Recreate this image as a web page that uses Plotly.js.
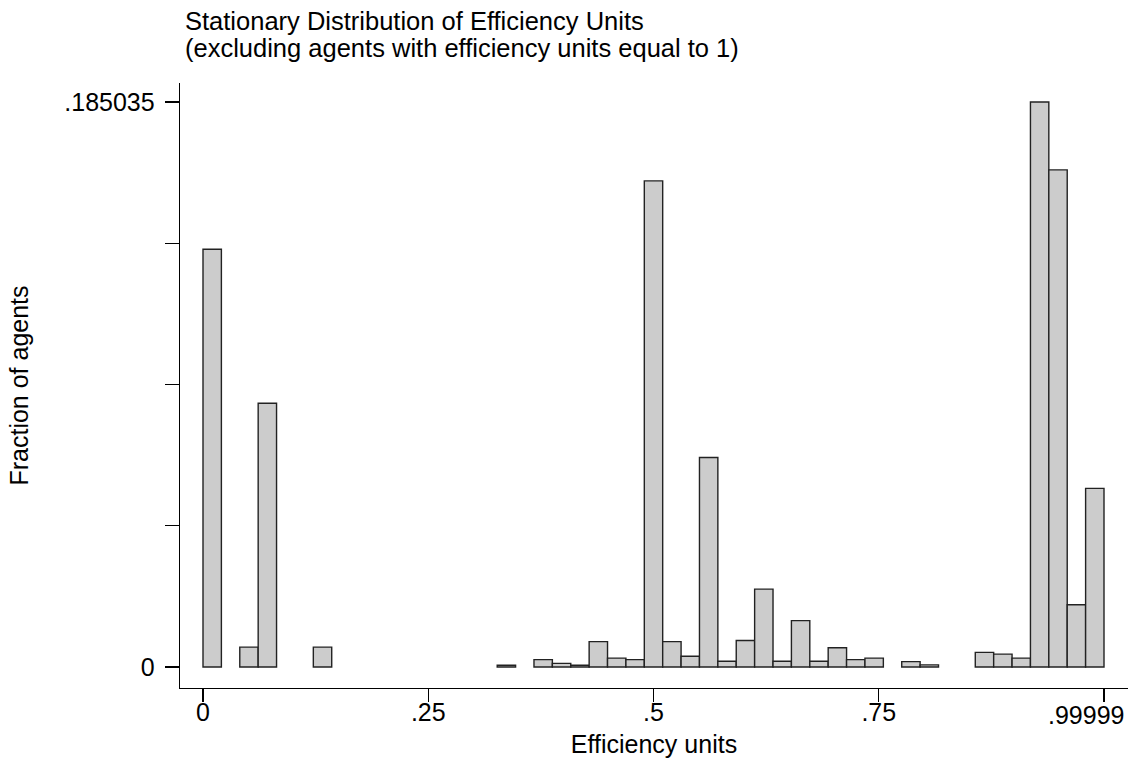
<!DOCTYPE html>
<html>
<head>
<meta charset="utf-8">
<script src="https://cdn.plot.ly/plotly-3.0.1.min.js"></script>
<style>
  html, body { margin: 0; padding: 0; background: #ffffff; }
  #chart { width: 1128px; height: 758px; }
</style>
</head>
<body>
<div id="chart"></div>
<script>
// ---- Data ----
// 49 equal-width bins spanning [0, 1]; only non-empty bins listed
const nBins = 49;
const binIndex = [0, 2, 3, 6, 16, 18, 19, 20, 21, 22, 23, 24, 25, 26, 27, 28, 29, 30,
                  31, 32, 33, 34, 35, 36, 38, 39, 42, 43, 44, 45, 46, 47, 48];
const fraction = [0.1368, 0.0065, 0.0864, 0.0065, 0.00055, 0.0024, 0.0012, 0.00055,
                  0.0083, 0.0029, 0.0024, 0.1592, 0.0083, 0.0035, 0.0686, 0.0019,
                  0.0087, 0.0255, 0.0019, 0.0152, 0.0019, 0.0063, 0.0024, 0.0029,
                  0.00175, 0.0007, 0.0048, 0.0042, 0.0029, 0.185035, 0.1628, 0.0204, 0.0585];

const xTickVals = [0, 0.25, 0.5, 0.75, 0.99999];
const xTickText = ["0", ".25", ".5", ".75", ".99999"];
const yMax = 0.185035;
const yTickVals = [0, yMax / 4, yMax / 2, 3 * yMax / 4, yMax];
const yTickText = ["0", "", "", "", ".185035"];

const titleLine1 = "Stationary Distribution of Efficiency Units";
const titleLine2 = "(excluding agents with efficiency units equal to 1)";
const xTitle = "Efficiency units";
const yTitle = "Fraction of agents";

// ---- Build ----
const binWidth = 1 / nBins;
const centers = binIndex.map(k => (k + 0.5) * binWidth);

const FONT = '"Liberation Sans", Arial, Helvetica, sans-serif';

const trace = {
  type: 'bar',
  x: centers,
  y: fraction,
  width: binIndex.map(() => binWidth),
  marker: { color: '#cccccc', line: { color: '#222222', width: 1.4 } },
  hoverinfo: 'x+y'
};

const plotTop = 83, plotBottom = 688, H = 758, W = 1128;
const plotH = plotBottom - plotTop;

// the last x tick label sits left-shifted so it stays inside the figure
const lastIdx = xTickText.length - 1;
const xTickTextShown = xTickText.map((t, i) => (i === lastIdx ? '' : t));

const layout = {
  width: W, height: H,
  margin: { l: 180, r: 0, t: plotTop, b: H - plotBottom, pad: 0 },
  paper_bgcolor: '#ffffff',
  plot_bgcolor: '#ffffff',
  showlegend: false,
  font: { family: FONT, size: 25, color: '#000000' },
  bargap: 0,
  xaxis: {
    range: [-0.02553, 1.02664],
    tickmode: 'array',
    tickvals: xTickVals,
    ticktext: xTickTextShown,
    ticks: 'outside', ticklen: 13, tickwidth: 1.3, tickcolor: '#000000',
    ticklabelstandoff: -11,
    showline: true, linecolor: '#000000', linewidth: 1.3,
    showgrid: false, zeroline: false,
    tickfont: { family: FONT, size: 25, color: '#000000' },
    title: { text: xTitle, font: { family: FONT, size: 25, color: '#000000' }, standoff: 11 },
    fixedrange: true
  },
  yaxis: {
    range: [-0.00688, 0.19126],
    tickmode: 'array',
    tickvals: yTickVals,
    ticktext: yTickText,
    ticks: 'outside', ticklen: 14, tickwidth: 1.3, tickcolor: '#000000',
    ticklabelstandoff: 5,
    showline: true, linecolor: '#000000', linewidth: 1.3,
    showgrid: false, zeroline: false,
    tickfont: { family: FONT, size: 25, color: '#000000' },
    title: { text: yTitle, font: { family: FONT, size: 25, color: '#000000' }, standoff: 28 },
    fixedrange: true
  },
  annotations: [
    {
      text: titleLine1, xref: 'paper', yref: 'paper',
      x: 0, xanchor: 'left', xshift: 3,
      y: 1 + (plotTop - 21.5) / plotH, yanchor: 'middle',
      showarrow: false, font: { family: FONT, size: 25.5, color: '#000000' }
    },
    {
      text: titleLine2, xref: 'paper', yref: 'paper',
      x: 0, xanchor: 'left', xshift: 3,
      y: 1 + (plotTop - 47.5) / plotH, yanchor: 'middle',
      showarrow: false, font: { family: FONT, size: 25.5, color: '#000000' }
    },
    {
      text: xTickText[lastIdx], xref: 'x', yref: 'paper',
      x: xTickVals[lastIdx], xanchor: 'right', xshift: 22,
      y: 0, yanchor: 'top', yshift: -11,
      showarrow: false, font: { family: FONT, size: 25, color: '#000000' }
    }
  ]
};

Plotly.newPlot('chart', [trace], layout, { displayModeBar: false, staticPlot: true });
</script>
</body>
</html>
